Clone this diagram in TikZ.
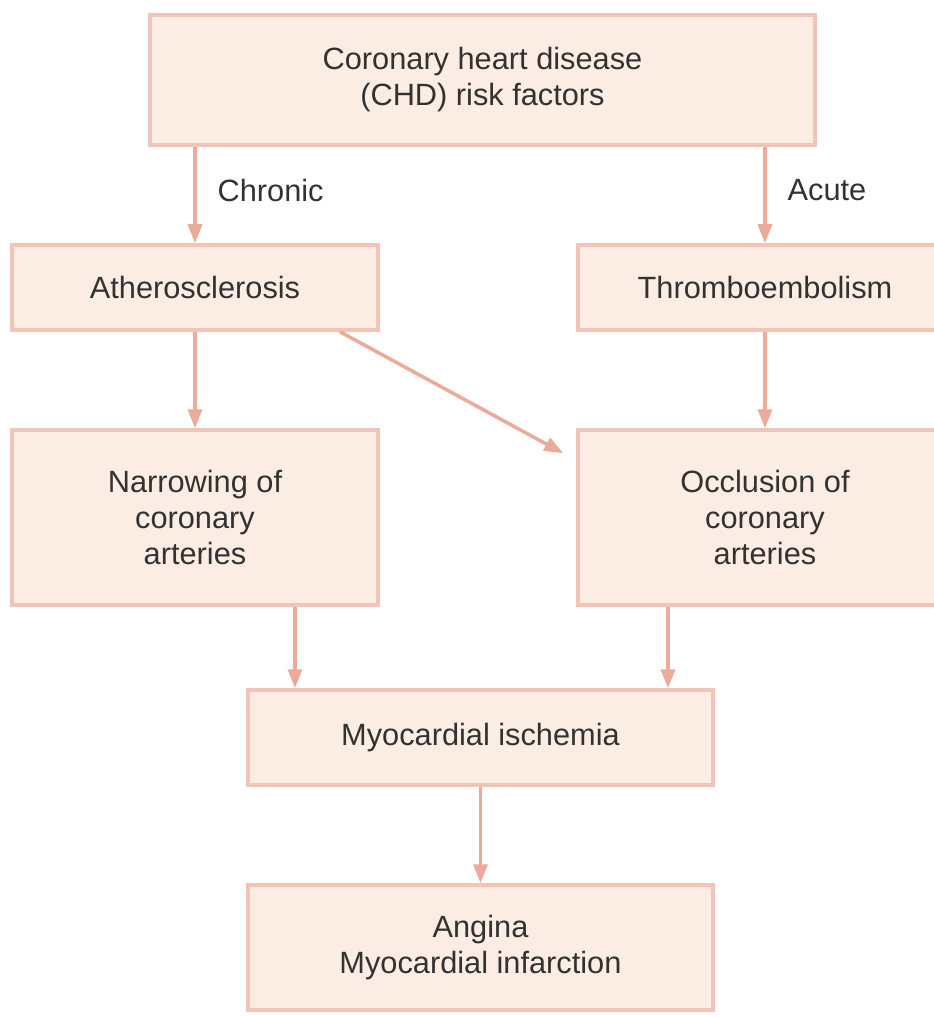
\documentclass[tikz,border=0pt]{standalone}
\usepackage{fontspec}
\setmainfont{Liberation Sans}
\usetikzlibrary{arrows.meta,positioning,calc}
\definecolor{boxfill}{RGB}{251,237,227}
\definecolor{boxline}{RGB}{240,196,182}
\definecolor{arrline}{RGB}{236,170,155}
\definecolor{txt}{RGB}{50,50,50}

\begin{document}
\begin{tikzpicture}[>={Triangle[length=3.8mm,width=2.8mm]},font=\fontsize{17.5}{20.5}\selectfont,
box/.style={draw=boxline,fill=boxfill,line width=2pt,align=center,text=txt,inner sep=3pt},
arr/.style={->,draw=arrline,fill=arrline,line width=2pt},
lbl/.style={text=txt,right,xshift=3mm}]
\useasboundingbox (0,0) rectangle (18.68,-20.34);
\node[box,minimum width=13.3cm,minimum height=2.6cm] (chd) at (9.65,-1.6) {Coronary heart disease\\(CHD) risk factors};
\node[box,minimum width=7.32cm,minimum height=1.7cm] (athero) at (3.9,-5.75) {Atherosclerosis};
\node[box,minimum width=7.48cm,minimum height=1.7cm] (thrombo) at (15.3,-5.75) {Thromboembolism};
\node[box,minimum width=7.32cm,minimum height=3.5cm] (narrow) at (3.9,-10.35) {Narrowing of\\coronary\\arteries};
\node[box,minimum width=7.48cm,minimum height=3.5cm] (occl) at (15.3,-10.35) {Occlusion of\\coronary\\arteries};
\node[box,minimum width=9.3cm,minimum height=1.9cm] (isch) at (9.61,-14.75) {Myocardial ischemia};
\node[box,minimum width=9.3cm,minimum height=2.5cm] (angina) at (9.61,-18.95) {Angina\\Myocardial infarction};
\draw[arr] (athero.north |- chd.south)--node[lbl,pos=.45]{Chronic}(athero.north);
\draw[arr] (thrombo.north |- chd.south)--node[lbl,pos=.45]{Acute}(thrombo.north);
\draw[arr] (athero.south)--(narrow.north);
\draw[arr] (thrombo.south)--(occl.north);
\draw[arr] ([xshift=2.9cm]athero.south)--([xshift=-2.6mm,yshift=-5mm]occl.north west);
\draw[arr] ([xshift=2cm]narrow.south)--([xshift=2cm]narrow.south |- isch.north);
\draw[arr] ([xshift=-1.94cm]occl.south)--([xshift=-1.94cm]occl.south |- isch.north);
\draw[arr] (isch.south)--(angina.north);
\end{tikzpicture}
\end{document}
